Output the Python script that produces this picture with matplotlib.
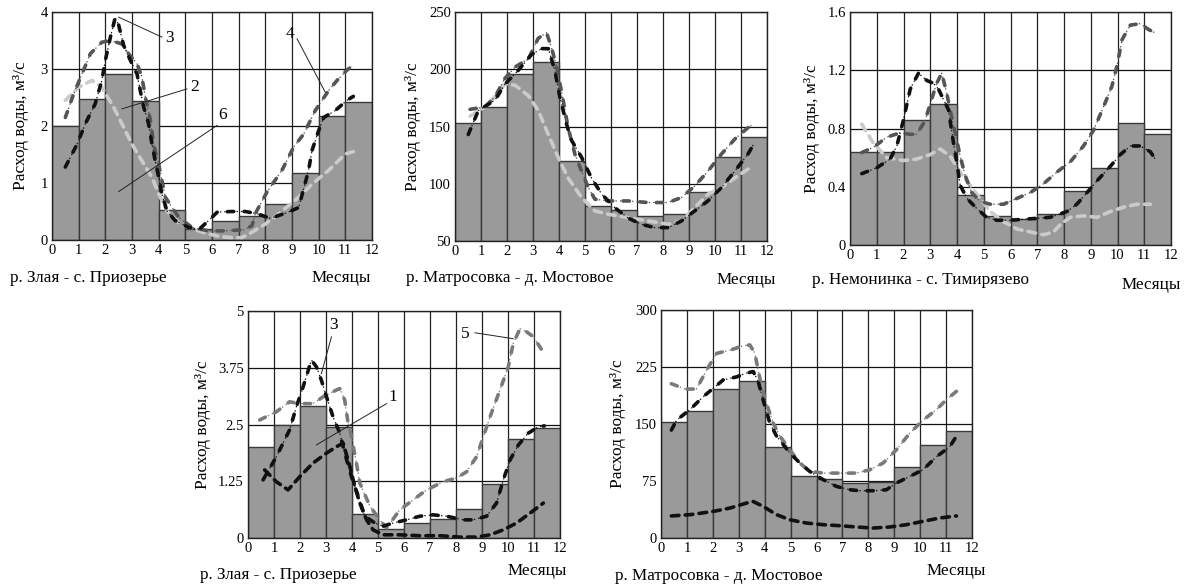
import matplotlib
matplotlib.use("Agg")
import matplotlib.pyplot as plt

plt.rcParams['font.family'] = ['Liberation Serif', 'DejaVu Serif']
plt.rcParams['lines.scale_dashes'] = False

# ---------------- data ----------------
months = list(range(12))
tick_months = list(range(13))

bars_zlaya = [2.0, 2.48, 2.91, 2.44, 0.53, 0.19, 0.34, 0.42, 0.64, 1.18, 2.17, 2.42]
bars_matr = [153, 167, 196, 206, 120, 81, 77, 72, 74, 93, 123, 141]
bars_nem = [0.64, 0.64, 0.86, 0.97, 0.345, 0.20, 0.18, 0.215, 0.37, 0.53, 0.835, 0.76]

# Panel 1: р. Злая (0..4)
p1_black_x = [0.5, 0.94, 1.25, 1.62, 1.87, 2.0, 2.19, 2.37, 2.5, 2.69, 3.0, 3.19, 3.31, 3.44, 3.62, 3.75,
              3.87, 4.0, 4.12, 4.31, 4.62, 5.12, 5.5, 5.87, 6.2, 6.75, 7.25, 7.7, 8.19, 8.87, 9.25, 9.62,
              9.75, 10.0, 10.19, 10.62, 11.06, 11.3]
p1_black_y = [1.28, 1.68, 2.04, 2.39, 2.80, 3.15, 3.56, 3.90, 3.77, 3.41, 3.09, 2.91, 2.62, 2.33, 2.04, 1.68,
              1.39, 1.10, 0.81, 0.51, 0.34, 0.22, 0.18, 0.34, 0.49, 0.50, 0.50, 0.46, 0.38, 0.49, 0.57, 1.22,
              1.57, 1.92, 2.15, 2.27, 2.45, 2.52]
p1_dark_x = [0.5, 0.81, 1.12, 1.44, 1.87, 2.19, 2.62, 2.87, 3.19, 3.37, 3.5, 3.69, 3.81, 4.0, 4.25, 4.75,
             5.25, 5.87, 6.5, 7.2, 7.5, 7.62, 8.06, 8.62, 9.06, 9.44, 9.87, 10.37, 10.69, 11.06, 11.25]
p1_dark_y = [2.15, 2.56, 2.91, 3.27, 3.47, 3.50, 3.44, 3.27, 3.09, 2.86, 2.51, 2.10, 1.68, 1.33, 0.75, 0.40,
             0.22, 0.16, 0.16, 0.18, 0.25, 0.46, 0.84, 1.22, 1.63, 1.86, 2.27, 2.62, 2.80, 2.98, 3.05]
p1_light_x = [0.5, 1.0, 1.5, 1.87, 2.31, 2.62, 3.0, 3.37, 3.75, 4.0, 4.31, 4.75, 5.25, 5.75, 6.3, 6.75,
              7.1, 7.37, 8.0, 8.5, 9.25, 9.75, 10.37, 11.0, 11.3]
p1_light_y = [2.45, 2.68, 2.80, 2.68, 2.33, 2.04, 1.68, 1.39, 1.10, 0.81, 0.51, 0.30, 0.20, 0.12, 0.06, 0.04,
              0.04, 0.10, 0.28, 0.46, 0.75, 0.98, 1.22, 1.51, 1.55]

# Panel 2: р. Матросовка (50..250)
p2_dark_x = [0.58, 1.15, 1.54, 1.92, 2.31, 2.82, 3.2, 3.52, 3.71, 3.91, 4.16, 4.35, 4.61, 4.87, 5.12, 5.38,
             5.89, 6.66, 7.43, 8.2, 8.71, 9.22, 9.73, 10.25, 10.76, 11.27, 11.4]
p2_dark_y = [165, 167, 176, 192, 202, 209, 227, 232, 219, 202, 173, 149, 126, 111, 97, 86.5,
             85, 85, 83.6, 83.6, 88, 98, 111, 126, 139, 149, 151]
p2_black_x = [0.51, 0.9, 1.54, 1.92, 2.43, 2.95, 3.33, 3.59, 3.84, 4.03, 4.29, 4.48, 4.87, 5.25, 5.64, 6.15,
              6.66, 7.17, 7.68, 8.2, 8.71, 9.22, 9.73, 10.25, 10.76, 11.27, 11.5]
p2_black_y = [143, 164, 173, 187, 199, 213, 218, 218, 199, 176, 152, 138, 123, 105, 91, 79,
              70, 64.6, 61.7, 61.7, 67.5, 76.3, 85, 96.7, 111, 126, 135]
p2_light_x = [0.58, 1.15, 1.54, 1.92, 2.31, 2.82, 3.2, 3.59, 3.97, 4.35, 4.87, 5.38, 5.89, 6.66, 7.43, 8.2,
              8.71, 9.22, 9.73, 10.25, 10.76, 11.27, 11.46]
p2_light_y = [159, 167, 176, 187, 186, 177, 164, 143, 123, 105, 88, 76.3, 73.4, 70.4, 67.5, 64.6,
              67.5, 79.2, 90.9, 96.7, 105, 112.8, 114]

# Panel 3: р. Немонинка (0..1.6)
p3_dark_x = [0.44, 0.87, 1.37, 1.87, 2.25, 2.49, 2.8, 3.05, 3.24, 3.43, 3.62, 3.74, 3.93, 4.12, 4.3, 4.55,
             4.86, 5.24, 5.74, 6.24, 6.74, 7.23, 7.73, 8.23, 8.73, 9.11, 9.48, 9.79, 9.98, 10.17, 10.48,
             10.85, 11.16, 11.48]
p3_dark_y = [0.635, 0.67, 0.74, 0.77, 0.76, 0.76, 0.85, 1.0, 1.11, 1.18, 1.04, 0.93, 0.77, 0.61, 0.48, 0.36,
             0.30, 0.28, 0.28, 0.32, 0.36, 0.42, 0.50, 0.57, 0.68, 0.79, 0.95, 1.09, 1.23, 1.41, 1.51,
             1.52, 1.48, 1.45]
p3_black_x = [0.44, 1.0, 1.5, 1.75, 2.0, 2.25, 2.56, 2.87, 3.12, 3.31, 3.49, 3.68, 3.87, 3.99, 4.12, 4.37,
              4.74, 5.11, 5.49, 5.99, 6.74, 7.48, 8.11, 8.48, 8.86, 9.23, 9.73, 10.1, 10.48, 10.85, 11.23,
              11.41]
p3_black_y = [0.49, 0.53, 0.59, 0.68, 0.86, 1.07, 1.18, 1.13, 1.11, 1.07, 1.0, 0.93, 0.70, 0.57, 0.41, 0.32,
              0.25, 0.19, 0.17, 0.17, 0.18, 0.19, 0.23, 0.28, 0.36, 0.44, 0.54, 0.62, 0.68, 0.68, 0.64,
              0.59]
p3_light_x = [0.44, 0.87, 1.37, 2.0, 2.49, 2.99, 3.37, 3.74, 4.12, 4.49, 4.86, 5.24, 5.74, 6.24, 6.74, 7.23,
              7.61, 7.86, 8.23, 8.73, 9.23, 9.73, 10.23, 10.73, 11.23]
p3_light_y = [0.83, 0.70, 0.60, 0.58, 0.59, 0.62, 0.66, 0.61, 0.50, 0.41, 0.32, 0.23, 0.16, 0.11, 0.09, 0.07,
              0.09, 0.14, 0.19, 0.20, 0.19, 0.23, 0.26, 0.28, 0.28]

# Panel 4: р. Злая (0..5)
p4_black_x = [0.58, 1.09, 1.6, 1.86, 2.12, 2.44, 2.63, 2.82, 3.02, 3.27, 3.53, 3.72, 3.98, 4.24, 4.49, 4.88,
              5.2, 5.58, 6.1, 6.61, 7.12, 7.64, 8.28, 8.66, 9.18, 9.56, 9.82, 10.08, 10.4, 10.78, 11.17, 11.4]
p4_black_y = [1.28, 1.79, 2.38, 2.89, 3.33, 3.92, 3.77, 3.48, 3.11, 2.67, 2.31, 1.87, 1.35, 0.92, 0.48, 0.33,
              0.26, 0.33, 0.40, 0.48, 0.51, 0.48, 0.40, 0.40, 0.48, 0.77, 1.28, 1.72, 2.05, 2.31, 2.45, 2.47]
p4_gray_x = [0.45, 1.09, 1.6, 1.99, 2.5, 2.89, 3.4, 3.53, 3.72, 3.85, 3.98, 4.17, 4.3, 4.69, 5.07, 5.33,
             5.84, 6.35, 6.87, 7.51, 8.02, 8.41, 8.79, 9.05, 9.31, 9.69, 10.01, 10.2, 10.46, 10.72, 10.98,
             11.3]
p4_gray_y = [2.6, 2.78, 3.0, 2.96, 2.96, 3.11, 3.26, 3.29, 3.04, 2.53, 2.23, 1.65, 1.21, 0.70, 0.40, 0.22,
             0.62, 0.84, 1.06, 1.24, 1.32, 1.46, 1.79, 2.23, 2.67, 3.26, 3.77, 4.28, 4.61, 4.54, 4.43,
             4.14]
p4_dash_x = [0.64, 1.09, 1.54, 1.99, 2.5, 3.02, 3.4, 3.66, 3.92, 4.11, 4.3, 4.56, 4.81, 5.2, 5.84, 6.61,
             7.38, 8.15, 8.79, 9.31, 9.82, 10.33, 10.85, 11.36]
p4_dash_y = [1.5, 1.24, 1.06, 1.35, 1.65, 1.87, 2.01, 2.09, 1.57, 1.13, 0.77, 0.40, 0.18, 0.07, 0.07, 0.05,
             0.05, 0.02, 0.02, 0.07, 0.18, 0.33, 0.55, 0.77]

# Panel 5: р. Матросовка (0..300)
p5_dark_x = [0.4, 0.93, 1.37, 1.76, 2.15, 2.66, 3.17, 3.43, 3.62, 3.75, 3.88, 4.07, 4.33, 4.59, 4.97, 5.36,
             5.74, 6.26, 6.9, 7.54, 8.06, 8.57, 9.08, 9.6, 10.11, 10.63, 11.01, 11.4]
p5_dark_y = [203, 196, 196, 221, 243, 247, 253, 254, 243, 221, 199, 177, 151, 134, 116, 98.6,
             87.6, 85.4, 85.4, 85.4, 89.8, 98.6, 116, 138, 155, 169, 182, 193]
p5_black_x = [0.4, 0.6, 1.12, 1.63, 2.02, 2.4, 2.92, 3.3, 3.56, 3.75, 3.94, 4.2, 4.46, 4.97, 5.36, 5.74,
              6.26, 6.77, 7.28, 7.67, 8.18, 8.7, 9.08, 9.6, 10.11, 10.63, 11.14, 11.4]
p5_black_y = [142, 155, 169, 186, 197, 208, 212, 217, 219, 206, 182, 151, 134, 112, 98.6, 87.6,
              76.7, 67.9, 63.5, 62.2, 62.2, 63.5, 72.3, 81, 89.8, 107, 120, 134]
p5_dash_x = [0.4, 1.12, 2.02, 2.66, 3.3, 3.56, 3.94, 4.46, 4.97, 5.61, 6.26, 6.9, 7.54, 8.18, 8.83, 9.47,
             10.11, 10.75, 11.4]
p5_dash_y = [29, 30.7, 35, 39.4, 46, 48, 41.6, 30.7, 24, 19.7, 17.5, 16.2, 14.5, 13.1, 14.5, 17.5,
             21.9, 26.3, 29]

BAR_COLOR = '#9a9a9a'
BLACK = '#111111'
DARK = '#555555'
MID = '#7a7a7a'
LIGHT = '#cbcbcb'

W, H = 1186, 587
fig = plt.figure(figsize=(W / 100, H / 100), dpi=100)


def rect(x0, y0, x1, y1):
    return [x0 / W, 1 - y1 / H, (x1 - x0) / W, (y1 - y0) / H]


def dashdot(ax, x, y, color):
    ax.plot(x, y, color=color, lw=0.9, linestyle=(5.5, (1.0, 2.2, 1.0, 7.8)), zorder=4)
    ax.plot(x, y, color=color, lw=2.6, linestyle=(0, (4.5, 7.5)),
            dash_capstyle='round', zorder=5)


def dashed(ax, x, y, color):
    ax.plot(x, y, color=color, lw=2.6, linestyle=(0, (5.5, 4.5)),
            dash_capstyle='round', zorder=4)


def setup(ax, box, bars, ymin, ymax, yticks, yticklabels, caption, cap_xy, mon_xy, ylab_x):
    ax.set_xlim(0, 12)
    ax.set_ylim(ymin, ymax)
    ax.bar(months, [b - ymin for b in bars], bottom=ymin, width=1.0, align='edge',
           color=BAR_COLOR, edgecolor='#3a3a3a', linewidth=1.0, zorder=2)
    for xv in tick_months:
        ax.axvline(xv, color='#222222', lw=0.9, zorder=1)
    for yv in yticks:
        ax.axhline(yv, color='#111111', lw=0.9, zorder=1)
    ax.set_xticks(tick_months)
    ax.set_xticklabels([str(m) for m in tick_months], fontsize=10.5)
    ax.set_yticks(yticks)
    ax.set_yticklabels(yticklabels, fontsize=10.5)
    ax.tick_params(length=0, pad=3)
    for sp in ax.spines.values():
        sp.set_color('#222222')
        sp.set_linewidth(1.0)
        sp.set_zorder(6)
    ax.set_ylabel('Расход воды, м³/с', fontsize=12.5, va='center')
    ax.yaxis.set_label_coords((ylab_x - box[0]) / (box[2] - box[0]), 0.5)
    fig.text(cap_xy[0] / W, 1 - cap_xy[1] / H, caption, fontsize=12.3, ha='left', va='center')
    fig.text(mon_xy[0] / W, 1 - mon_xy[1] / H, 'Месяцы', fontsize=12.3, ha='left', va='center')


def annotate(ax, text, p_from, p_to, text_xy):
    ax.plot([p_from[0], p_to[0]], [p_from[1], p_to[1]], color='#222222', lw=0.7, zorder=7)
    ax.text(text_xy[0], text_xy[1], text, fontsize=12.5, ha='center', va='center', zorder=7)


boxes = [(52, 12, 372, 240), (455, 12, 767, 241), (850, 12, 1171, 245),
         (248, 311, 560, 538), (661, 310, 972, 538)]
axes = [fig.add_axes(rect(*b)) for b in boxes]
ax1, ax2, ax3, ax4, ax5 = axes

setup(ax1, boxes[0], bars_zlaya, 0, 4, [0, 1, 2, 3, 4], ['0', '1', '2', '3', '4'],
      'р. Злая - с. Приозерье', (10, 278), (312, 278), 21)
setup(ax2, boxes[1], bars_matr, 50, 250, [50, 100, 150, 200, 250], ['50', '100', '150', '200', '250'],
      'р. Матросовка - д. Мостовое', (406, 278), (717, 280), 413)
setup(ax3, boxes[2], bars_nem, 0, 1.6, [0, 0.4, 0.8, 1.2, 1.6], ['0', '0.4', '0.8', '1.2', '1.6'],
      'р. Немонинка - с. Тимирязево', (812, 280), (1122, 285), 812)
setup(ax4, boxes[3], bars_zlaya, 0, 5, [0, 1.25, 2.5, 3.75, 5], ['0', '1.25', '2.5', '3.75', '5'],
      'р. Злая - с. Приозерье', (200, 575), (508, 571), 203)
setup(ax5, boxes[4], bars_matr, 0, 300, [0, 75, 150, 225, 300], ['0', '75', '150', '225', '300'],
      'р. Матросовка - д. Мостовое', (615, 576), (927, 571), 618)

# curves
dashed(ax1, p1_light_x, p1_light_y, LIGHT)
dashdot(ax1, p1_dark_x, p1_dark_y, DARK)
dashdot(ax1, p1_black_x, p1_black_y, BLACK)

dashed(ax2, p2_light_x, p2_light_y, LIGHT)
dashdot(ax2, p2_dark_x, p2_dark_y, DARK)
dashdot(ax2, p2_black_x, p2_black_y, BLACK)

dashed(ax3, p3_light_x, p3_light_y, LIGHT)
dashdot(ax3, p3_dark_x, p3_dark_y, DARK)
dashdot(ax3, p3_black_x, p3_black_y, BLACK)

dashed(ax4, p4_dash_x, p4_dash_y, BLACK)
dashdot(ax4, p4_gray_x, p4_gray_y, MID)
dashdot(ax4, p4_black_x, p4_black_y, BLACK)

dashed(ax5, p5_dash_x, p5_dash_y, BLACK)
dashdot(ax5, p5_dark_x, p5_dark_y, MID)
dashdot(ax5, p5_black_x, p5_black_y, BLACK)

# annotations
annotate(ax1, '3', (2.5, 3.91), (4.12, 3.56), (4.4, 3.55))
annotate(ax1, '2', (2.62, 2.30), (5.06, 2.65), (5.35, 2.68))
annotate(ax1, '6', (2.5, 0.85), (6.19, 2.01), (6.4, 2.2))
annotate(ax1, '4', (9.19, 3.53), (10.25, 2.59), (8.94, 3.62))

annotate(ax4, '3', (3.21, 4.43), (2.82, 3.62), (3.3, 4.69))
annotate(ax4, '1', (5.33, 2.96), (2.63, 2.05), (5.58, 3.11))
annotate(ax4, '5', (8.73, 4.52), (10.2, 4.39), (8.34, 4.5))

fig.savefig('out.png', dpi=100)
